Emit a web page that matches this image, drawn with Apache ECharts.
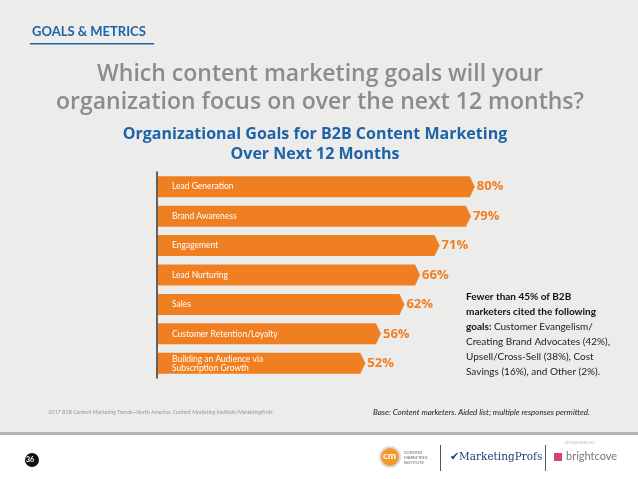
<!DOCTYPE html>
<html><head><meta charset="utf-8">
<script src="https://cdn.jsdelivr.net/npm/echarts@6/dist/echarts.min.js"></script>
<style>html,body{margin:0;padding:0;background:#fff}#c{width:638px;height:479px}</style>
</head><body><div id="c"></div>
<script>
// data
const goals = ['Lead Generation', 'Brand Awareness', 'Engagement', 'Lead Nurturing', 'Sales',
  'Customer Retention/Loyalty', 'Building an Audience via\nSubscription Growth'];
const pcts = [80, 79, 71, 66, 62, 56, 52];

const chart = echarts.init(document.getElementById('c'));
const orange = '#f07f22';

chart.setOption({
  animation: false,
  grid: { left: 157, right: 90, top: 172, bottom: 101 },
  xAxis: { type: 'value', min: 0, max: 100, show: false },
  yAxis: {
    type: 'category', data: goals, inverse: true,
    axisLine: { lineStyle: { color: '#333', width: 1.5 } },
    axisTick: { show: false }, axisLabel: { show: false }
  },
  graphic: [
    { type: 'rect', z: -10, shape: { x: 0, y: 0, width: 638, height: 432 }, style: { fill: '#ececeb' } },
    { type: 'rect', z: -9, shape: { x: 0, y: 432, width: 638, height: 3 }, style: { fill: '#b5b5b5' } },
    { type: 'text', left: 32, top: 25, style: { text: 'GOALS & METRICS', fill: '#1e62a8', font: 'bold 13px Lato' } },
    { type: 'rect', shape: { x: 30, y: 43, width: 124, height: 1.5 }, style: { fill: '#1e62a8' } },
    { type: 'text', style: { x: 320, y: 60, textAlign: 'center', text: 'Which content marketing goals will your\norganization focus on over the next 12 months?', fill: '#8c8c8c', font: '600 23px "Open Sans"', lineHeight: 28 } },
    { type: 'text', style: { x: 315, y: 124, textAlign: 'center', text: 'Organizational Goals for B2B Content Marketing\nOver Next 12 Months', fill: '#1e62a8', font: 'bold 16px "Open Sans"', lineHeight: 20 } },
    { type: 'text', left: 466, top: 292, style: {
      rich: { b: { font: 'bold 10px Lato', fill: '#111', lineHeight: 15 }, n: { font: '10px Lato', fill: '#222', lineHeight: 15 } },
      text: '{b|Fewer than 45% of B2B}\n{b|marketers cited the following}\n{b|goals: }{n|Customer Evangelism/}\n{n|Creating Brand Advocates (42%),}\n{n|Upsell/Cross-Sell (38%), Cost}\n{n|Savings (16%), and Other (2%).}'
    } },
    { type: 'text', left: 48, top: 409, style: { text: '2017 B2B Content Marketing Trends—North America: Content Marketing Institute/MarketingProfs', fill: '#999', font: 'italic 5.5px Lato' } },
    { type: 'text', left: 373, top: 408, style: { text: 'Base: Content marketers. Aided list; multiple responses permitted.', fill: '#222', font: 'italic 8px Lato' } },
    { type: 'circle', shape: { cx: 32, cy: 460, r: 7 }, style: { fill: '#111' } },
    { type: 'text', left: 26, top: 456, style: { text: '36', fill: '#fff', font: 'bold 7px Lato' } },
    { type: 'circle', shape: { cx: 390, cy: 457, r: 10 }, style: { fill: '#f29a2e', stroke: '#ddd', lineWidth: 2 } },
    { type: 'text', left: 383, top: 451, style: { text: 'cm', fill: '#fff', font: 'bold 10px Lato' } },
    { type: 'text', left: 404, top: 450, style: { text: 'CONTENT\nMARKETING\nINSTITUTE', fill: '#666', font: '4px Lato', lineHeight: 5 } },
    { type: 'rect', shape: { x: 440, y: 445, width: 1, height: 26 }, style: { fill: '#555' } },
    { type: 'text', left: 450, top: 452, style: { text: '✔MarketingProfs', fill: '#1f3f7a', font: '10.5px "DejaVu Serif"' } },
    { type: 'rect', shape: { x: 545, y: 445, width: 1, height: 26 }, style: { fill: '#555' } },
    { type: 'text', left: 565, top: 441, style: { text: 'SPONSORED BY', fill: '#bbb', font: '4px Lato' } },
    { type: 'text', left: 566, top: 451, style: { text: 'brightcove', fill: '#777', font: '11px Lato' } },
    { type: 'rect', shape: { x: 554, y: 453, width: 8, height: 8 }, style: { fill: '#d9437b' } }
  ],
  series: [{
    type: 'custom',
    data: pcts.map((v, i) => [v, i]),
    renderItem: function (params, api) {
      const end = api.coord([api.value(0), api.value(1)]);
      const start = api.coord([0, api.value(1)]);
      const h = 21, tip = 5, x0 = start[0] + 1, y = end[1];
      return {
        type: 'group',
        children: [
          { type: 'polygon', shape: { points: [[x0, y - h / 2], [end[0], y - h / 2], [end[0] + tip, y], [end[0], y + h / 2], [x0, y + h / 2]] }, style: { fill: orange } },
          { type: 'text', style: { text: goals[params.dataIndex], x: x0 + 14, y: y, verticalAlign: 'middle', fill: '#fff', font: '8.5px Lato', lineHeight: 9 } },
          { type: 'text', style: { text: api.value(0) + '%', x: end[0] + tip + 2, y: y, verticalAlign: 'middle', fill: orange, font: 'bold 13px "Open Sans"' } }
        ]
      };
    }
  }]
});
</script></body></html>
